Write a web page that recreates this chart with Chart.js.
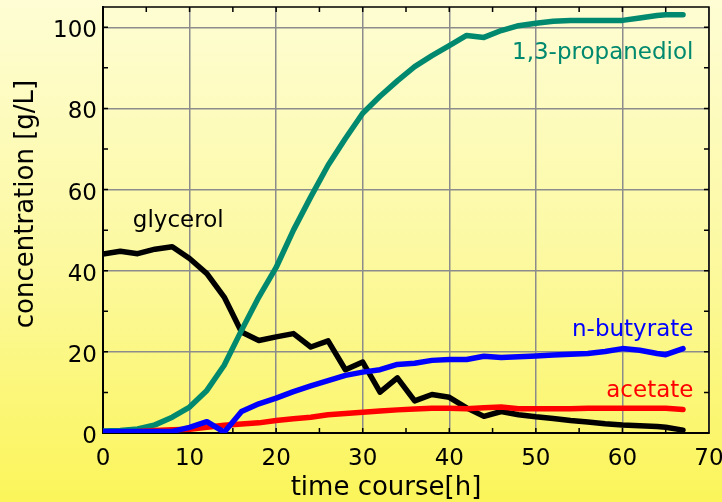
<!DOCTYPE html>
<html>
<head>
<meta charset="utf-8">
<script src="https://cdn.jsdelivr.net/npm/chart.js@4.4.1/dist/chart.umd.min.js"></script>
<style>
  html, body { margin: 0; padding: 0; background: #fdfbb0; }
</style>
</head>
<body>
<canvas id="chart" width="722" height="502"></canvas>
<script>
// sampling times [h]
const hours = [0, 2, 4, 6, 8, 10, 12, 14, 16, 18, 20, 22, 24, 26, 28, 30, 32, 34, 36, 38,
  40, 42, 44, 46, 48, 50, 52, 54, 56, 58, 60, 62, 64, 65, 67];

// concentrations [g/L]
const glycerol = [44.1, 44.8, 44.2, 45.3, 45.9, 43.0, 39.3, 33.5, 24.9, 22.8,
  23.7, 24.5, 21.2, 22.7, 15.6, 17.5, 10.1, 13.6, 7.9, 9.5,
  8.8, 6.2, 4.1, 5.3, 4.5, 4.0, 3.6, 3.1, 2.7, 2.3,
  2.0, 1.8, 1.6, 1.4, 0.7];
const propanediol = [0.5, 0.6, 1.0, 2.0, 3.9, 6.4, 10.5, 16.7, 25.3, 33.5,
  40.8, 50.0, 58.2, 66.0, 72.6, 78.8, 83.0, 86.8, 90.3, 93.0,
  95.5, 98.0, 97.5, 99.2, 100.4, 101.0, 101.5, 101.7, 101.7, 101.7,
  101.7, 102.3, 102.9, 103.1, 103.1];
const butyrate = [0.4, 0.4, 0.4, 0.4, 0.4, 1.4, 2.8, 0.2, 5.3, 7.2,
  8.6, 10.2, 11.6, 12.9, 14.2, 15.0, 15.6, 16.9, 17.2, 17.9,
  18.1, 18.1, 18.9, 18.6, 18.8, 19.0, 19.2, 19.4, 19.6, 20.1,
  20.8, 20.4, 19.6, 19.3, 20.8];
const acetate = [0.3, 0.3, 0.4, 0.6, 0.8, 0.9, 1.4, 1.9, 2.2, 2.5,
  3.1, 3.5, 3.9, 4.5, 4.8, 5.1, 5.4, 5.7, 5.9, 6.1,
  6.1, 6.0, 6.2, 6.4, 6.0, 6.0, 6.0, 6.0, 6.1, 6.1,
  6.1, 6.1, 6.1, 6.1, 5.8];

const seriesNames = ['n-butyrate', 'acetate', '1,3-propanediol', 'glycerol'];
const xTitle = 'time course[h]';
const yTitle = 'concentration [g/L]';

const GREEN = '#00896f';
const FONT = "'DejaVu Sans', sans-serif";

Chart.defaults.font.family = FONT;
Chart.defaults.font.size = 23;
Chart.defaults.color = '#000';

function pts(vals) {
  return hours.map((h, i) => ({ x: h, y: vals[i] }));
}

// yellow gradient behind everything
const bgPlugin = {
  id: 'bg',
  beforeDraw(chart) {
    const { ctx, width, height } = chart;
    const g = ctx.createLinearGradient(0, 0, 0, height);
    g.addColorStop(0, '#fefdd4');
    g.addColorStop(0.5, '#fcf9a2');
    g.addColorStop(1, '#fbf55a');
    ctx.save();
    ctx.fillStyle = g;
    ctx.fillRect(0, 0, width, height);
    ctx.restore();
  }
};

// box round the plot + small inner ticks
const framePlugin = {
  id: 'frame',
  beforeDatasetsDraw(chart) {
    const { ctx, chartArea: a, scales: { x, y } } = chart;
    ctx.save();
    ctx.strokeStyle = '#000';
    ctx.lineWidth = 1.5;
    ctx.strokeRect(a.left, a.top, a.right - a.left, a.bottom - a.top);
    ctx.beginPath();
    for (let v = 10; v < 105; v += 10) {
      const py = y.getPixelForValue(v);
      ctx.moveTo(a.left, py); ctx.lineTo(a.left + 5, py);
      ctx.moveTo(a.right, py); ctx.lineTo(a.right - 5, py);
    }
    for (let t = 5; t < 70; t += 5) {
      const px = x.getPixelForValue(t);
      ctx.moveTo(px, a.bottom); ctx.lineTo(px, a.bottom - 5);
      ctx.moveTo(px, a.top); ctx.lineTo(px, a.top + 5);
    }
    ctx.stroke();
    ctx.restore();
  }
};

// series names next to the curves, and the axis titles
const labelPlugin = {
  id: 'labels',
  afterDatasetsDraw(chart) {
    const { ctx, scales: { x, y } } = chart;
    ctx.save();
    ctx.font = '23px ' + FONT;
    ctx.textBaseline = 'alphabetic';

    ctx.textAlign = 'left';
    ctx.fillStyle = '#000';
    ctx.fillText(seriesNames[3], x.getPixelForValue(3.45), y.getPixelForValue(50.7));

    ctx.textAlign = 'right';
    const rx = x.getPixelForValue(68.2);
    ctx.fillStyle = GREEN;
    ctx.fillText(seriesNames[2], rx, y.getPixelForValue(92.2));
    ctx.fillStyle = '#0000ff';
    ctx.fillText(seriesNames[0], rx, y.getPixelForValue(23.8));
    ctx.fillStyle = '#ff0000';
    ctx.fillText(seriesNames[1], rx, y.getPixelForValue(8.8));

    ctx.font = '26px ' + FONT;
    ctx.fillStyle = '#000';
    ctx.textAlign = 'center';
    ctx.fillText(xTitle, 386, 495);
    ctx.translate(33, 204);
    ctx.rotate(-Math.PI / 2);
    ctx.fillText(yTitle, 0, 0);
    ctx.restore();
  }
};

const line = (label, vals, color) => ({
  label: label,
  data: pts(vals),
  borderColor: color,
  backgroundColor: color,
  borderWidth: 5.5,
  borderCapStyle: 'round',
  borderJoinStyle: 'round',
  pointRadius: 0,
  tension: 0,
  fill: false
});

const gridOpts = { color: '#8c8c8c', lineWidth: 1.5, drawTicks: false };

new Chart(document.getElementById('chart').getContext('2d'), {
  type: 'line',
  data: {
    // first dataset is drawn on top
    datasets: [
      line(seriesNames[0], butyrate, '#0000ff'),
      line(seriesNames[1], acetate, '#ff0000'),
      line(seriesNames[2], propanediol, GREEN),
      line(seriesNames[3], glycerol, '#000000')
    ]
  },
  options: {
    responsive: false,
    animation: false,
    layout: { padding: { top: 7, right: 13, left: 0, bottom: 0 } },
    plugins: {
      legend: { display: false },
      tooltip: { enabled: false }
    },
    scales: {
      x: {
        type: 'linear',
        min: 0,
        max: 70,
        afterFit(s) {
          s.height = 69;
          s.paddingLeft = 0;
          s.paddingRight = 0;
        },
        ticks: { stepSize: 10, padding: 12, maxRotation: 0, color: '#000' },
        grid: gridOpts,
        border: { color: '#000', width: 2 }
      },
      y: {
        min: 0,
        max: 105,
        afterFit(s) {
          s.width = 103;
          s.paddingTop = 0;
          s.paddingBottom = 0;
        },
        ticks: { stepSize: 20, includeBounds: false, padding: 6, labelOffset: 4, color: '#000' },
        grid: gridOpts,
        border: { color: '#000', width: 2 }
      }
    }
  },
  plugins: [bgPlugin, framePlugin, labelPlugin]
});
</script>
</body>
</html>
